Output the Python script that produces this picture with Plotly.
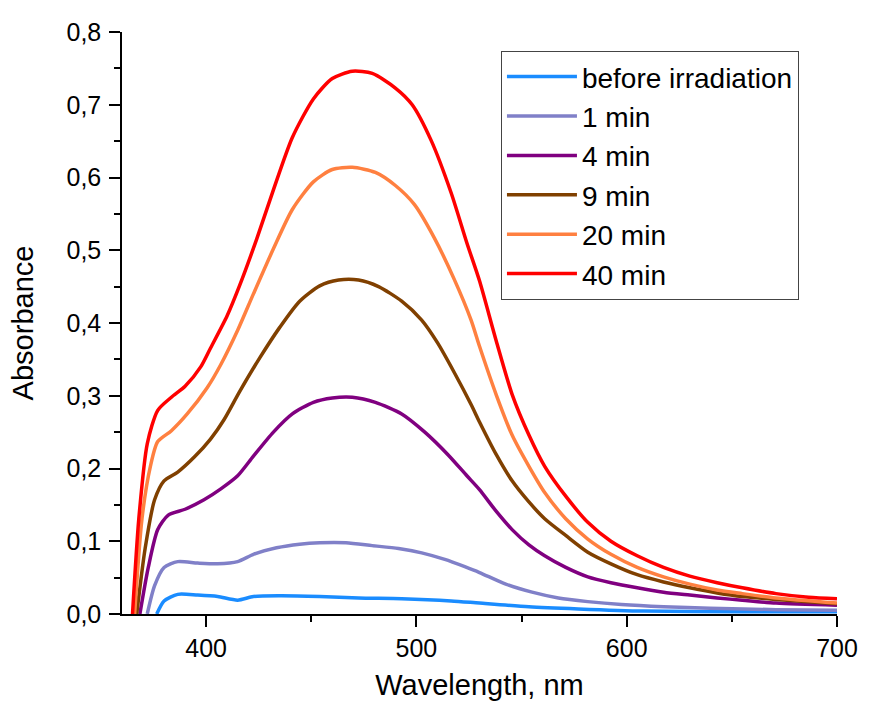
import plotly.graph_objects as go

# ---- data ----
series_names = ["before irradiation", "1 min", "4 min", "9 min", "20 min", "40 min"]
series_colors = ["#1A8CFF", "#8080C8", "#800080", "#804000", "#FF8040", "#FF0000"]

wl_before = [376.5, 380, 386.5, 396, 405.5, 415, 422.5, 435, 454, 472.5, 493, 516.5, 530, 553.5, 577, 608, 655, 700]
abs_before = [0, 0.018, 0.027, 0.026, 0.024, 0.019, 0.024, 0.025, 0.024, 0.022, 0.021, 0.018, 0.015, 0.010, 0.007, 0.004, 0.003, 0.003]

wl_1min = [372, 375.5, 380, 386.5, 396, 405.5, 415, 422.5, 433.5, 444.5, 454, 466.5, 479, 491.5, 502.5, 513.5, 523, 530, 542.5, 555, 567.5, 581.5, 597.5, 617.5, 639.5, 671, 700]
abs_1min = [0, 0.039, 0.064, 0.072, 0.070, 0.069, 0.072, 0.082, 0.091, 0.096, 0.098, 0.098, 0.094, 0.090, 0.084, 0.075, 0.065, 0.057, 0.041, 0.030, 0.022, 0.017, 0.013, 0.010, 0.008, 0.006, 0.005]

wl_4min = [368.5, 372.5, 377, 382, 390, 399, 407, 415, 422.5, 432, 441, 451, 460, 469.5, 480.5, 493, 504, 515, 524, 530, 538, 545.5, 553.5, 561, 571, 581.5, 592.5, 605, 617.5, 630, 643, 655, 671, 700]
abs_4min = [0, 0.064, 0.116, 0.136, 0.144, 0.157, 0.172, 0.190, 0.217, 0.250, 0.275, 0.291, 0.297, 0.298, 0.291, 0.275, 0.250, 0.219, 0.190, 0.171, 0.141, 0.116, 0.095, 0.080, 0.064, 0.051, 0.043, 0.036, 0.030, 0.026, 0.022, 0.019, 0.015, 0.012]

wl_9min = [367, 371, 375.5, 380, 386.5, 394.5, 402, 408.5, 416, 425.5, 435, 444.5, 454, 463, 472.5, 482, 493, 502.5, 510, 518, 526, 530, 538, 545.5, 553.5, 561, 571, 581.5, 592.5, 605, 617.5, 630, 643, 655, 671, 700]
abs_9min = [0, 0.090, 0.157, 0.183, 0.195, 0.216, 0.240, 0.267, 0.306, 0.352, 0.394, 0.430, 0.451, 0.459, 0.459, 0.450, 0.430, 0.404, 0.373, 0.332, 0.288, 0.264, 0.219, 0.183, 0.154, 0.131, 0.108, 0.085, 0.069, 0.054, 0.044, 0.036, 0.029, 0.024, 0.020, 0.014]

wl_20min = [366, 369.5, 373.5, 377, 383.5, 391, 400.5, 407, 415, 422.5, 432, 441, 451, 460, 469.5, 480.5, 490, 499, 508.5, 518, 526, 530, 538, 545.5, 553.5, 561, 571, 581.5, 592.5, 605, 617.5, 630, 643, 655, 671, 700]
abs_20min = [0, 0.131, 0.203, 0.237, 0.252, 0.275, 0.311, 0.343, 0.390, 0.440, 0.502, 0.556, 0.594, 0.611, 0.614, 0.607, 0.589, 0.563, 0.517, 0.460, 0.404, 0.368, 0.301, 0.246, 0.203, 0.167, 0.131, 0.103, 0.082, 0.064, 0.051, 0.041, 0.033, 0.028, 0.022, 0.015]

wl_40min = [365, 368, 372, 377, 383.5, 390, 397.5, 402, 410, 416, 424, 432, 441, 451, 460, 469.5, 479, 490, 498, 507, 516.5, 524, 530, 538, 545.5, 553.5, 561, 571, 581.5, 592.5, 605, 617.5, 630, 643, 655, 671, 686.5, 700]
abs_40min = [0, 0.131, 0.234, 0.280, 0.298, 0.313, 0.340, 0.365, 0.410, 0.452, 0.515, 0.583, 0.655, 0.708, 0.736, 0.746, 0.743, 0.723, 0.700, 0.651, 0.579, 0.510, 0.458, 0.375, 0.302, 0.246, 0.203, 0.162, 0.126, 0.100, 0.080, 0.064, 0.052, 0.043, 0.036, 0.028, 0.023, 0.021]

wavelengths = [wl_before, wl_1min, wl_4min, wl_9min, wl_20min, wl_40min]
absorbances = [abs_before, abs_1min, abs_4min, abs_9min, abs_20min, abs_40min]

FONT = "Liberation Sans, Arial, sans-serif"

fig = go.Figure()
for name, color, xs, ys in zip(series_names, series_colors, wavelengths, absorbances):
    fig.add_trace(go.Scatter(
        x=xs, y=ys, name=name, mode="lines",
        line=dict(color=color, width=3.5, shape="spline", smoothing=0.7),
    ))

fig.update_layout(
    width=870, height=708,
    margin=dict(l=122, r=24, t=32, b=91),
    paper_bgcolor="white", plot_bgcolor="white",
    separators=", ",
    font=dict(family=FONT, color="black", size=25),
    showlegend=True,
    legend=dict(
        x=0.530, y=0.9675, xanchor="left", yanchor="top",
        bgcolor="white", bordercolor="#444444", borderwidth=1,
        font=dict(family=FONT, size=28, color="black"),
        itemwidth=70, tracegroupgap=0,
    ),
)

fig.update_xaxes(
    range=[360, 700], tick0=400, dtick=100,
    showline=True, linecolor="black", linewidth=1.5,
    ticks="outside", ticklen=11, tickwidth=1.5, tickcolor="black",
    tickfont=dict(family=FONT, size=25),
    minor=dict(dtick=50, ticks="outside", ticklen=6, tickwidth=1.5, tickcolor="black"),
    showgrid=False, zeroline=False, mirror=False,
    title=dict(text="Wavelength, nm", font=dict(family=FONT, size=29), standoff=14),
)
fig.update_yaxes(
    range=[0, 0.8], tick0=0, dtick=0.1, tickformat=".1f",
    showline=True, linecolor="black", linewidth=1.5,
    ticks="outside", ticklen=11, tickwidth=1.5, tickcolor="black",
    tickfont=dict(family=FONT, size=25), ticklabelstandoff=3,
    minor=dict(dtick=0.05, ticks="outside", ticklen=6, tickwidth=1.5, tickcolor="black"),
    showgrid=False, zeroline=False, mirror=False,
    title=dict(text="Absorbance", font=dict(family=FONT, size=29), standoff=24),
)

fig.write_html(
    "out.html",
    config={"displayModeBar": False},
    post_script="document.body.style.margin='0';document.body.style.overflow='hidden';",
)
